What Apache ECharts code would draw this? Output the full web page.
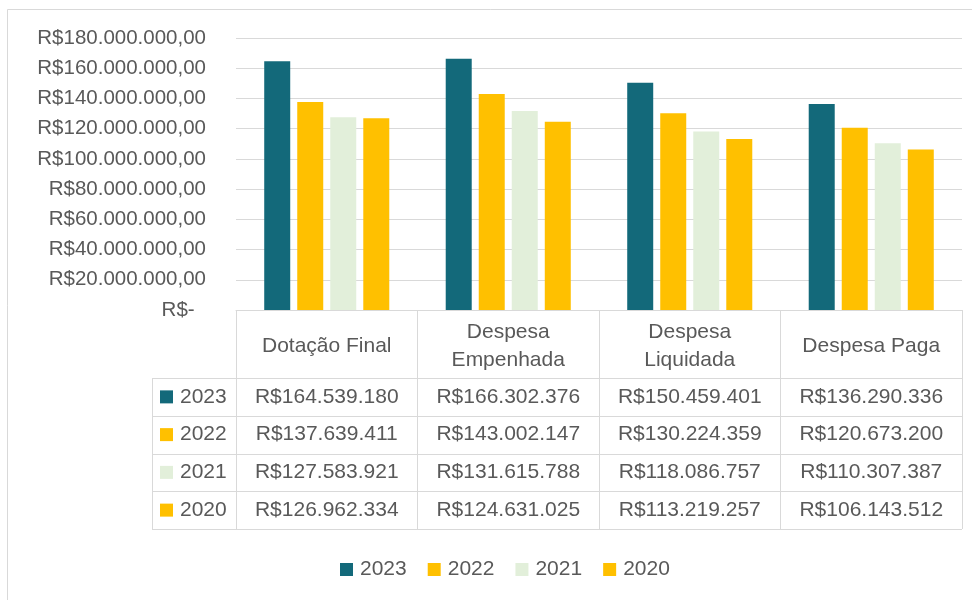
<!DOCTYPE html>
<html><head><meta charset="utf-8">
<script src="https://cdn.jsdelivr.net/npm/echarts@6/dist/echarts.min.js"></script>
<style>html,body{margin:0;padding:0;background:#fff}#c{width:972px;height:600px}</style>
</head><body><div id="c"></div>
<script>
const categories = ['Dotação Final', 'Despesa Empenhada', 'Despesa Liquidada', 'Despesa Paga'];
const headerLabels = ['Dotação Final', 'Despesa\nEmpenhada', 'Despesa\nLiquidada', 'Despesa Paga'];
const years = ['2023', '2022', '2021', '2020'];
const v2023 = [164539180, 166302376, 150459401, 136290336];
const v2022 = [137639411, 143002147, 130224359, 120673200];
const v2021 = [127583921, 131615788, 118086757, 110307387];
const v2020 = [126962334, 124631025, 113219257, 106143512];
const yTicks = { min: 0, max: 180000000, interval: 20000000 };

const rows = [v2023, v2022, v2021, v2020];
const colors = ['#13697A', '#FFC000', '#E2EFDA', '#FFC000'];
const TXT = '#595959', LINE = '#d9d9d9', FONT = 'Liberation Sans, Arial, sans-serif';
const W = 972, H = 600;
const GL = 236, GR = 10, GT = 38, AXIS_Y = 310;
const HEADER_BOTTOM = 378, ROW_H = 37.75, TABLE_LEFT = 152;

function thousands(n) { return String(n).replace(/\B(?=(\d{3})+(?!\d))/g, '.'); }
function yFmt(v) { return v === 0 ? 'R$-  ' : 'R$' + thousands(v) + ',00'; }

const chart = echarts.init(document.getElementById('c'), null, { renderer: 'canvas' });

const xAxes = [{
  type: 'category', data: categories, position: 'bottom',
  axisLine: { lineStyle: { color: LINE, width: 1 } },
  axisTick: { show: true, length: (HEADER_BOTTOM + ROW_H * 4) - AXIS_Y, interval: 0, lineStyle: { color: LINE } },
  axisLabel: { interval: 0, margin: (HEADER_BOTTOM - AXIS_Y) / 2 + 2, verticalAlign: 'middle', fontSize: 21, lineHeight: 28,
    color: TXT, fontFamily: FONT, formatter: (v, i) => headerLabels[i] },
  splitLine: { show: false }
}];
rows.forEach((r, k) => {
  xAxes.push({
    type: 'category', data: categories, position: 'bottom', gridIndex: 0,
    offset: HEADER_BOTTOM + ROW_H * (k + 0.5) - AXIS_Y,
    axisLine: { show: false }, axisTick: { show: false }, splitLine: { show: false },
    axisLabel: { interval: 0, margin: 0, verticalAlign: 'middle', fontSize: 21, color: TXT, fontFamily: FONT,
      formatter: (v, i) => 'R$' + thousands(r[i]) }
  });
});

const graphic = [
  { type: 'rect', shape: { x: 7.5, y: 9.5, width: W, height: H }, style: { fill: null, stroke: LINE, lineWidth: 1 }, silent: true },
  { type: 'line', shape: { x1: TABLE_LEFT + 0.5, y1: HEADER_BOTTOM, x2: TABLE_LEFT + 0.5, y2: HEADER_BOTTOM + ROW_H * 4 }, style: { stroke: LINE, lineWidth: 1 } }
];
for (let k = 0; k <= 4; k++) {
  const y = Math.round(HEADER_BOTTOM + ROW_H * k) + 0.5;
  graphic.push({ type: 'line', shape: { x1: TABLE_LEFT, y1: y, x2: W - GR, y2: y }, style: { stroke: LINE, lineWidth: 1 } });
}
years.forEach((yr, k) => {
  const cy = HEADER_BOTTOM + ROW_H * (k + 0.5);
  graphic.push({ type: 'rect', shape: { x: 160, y: cy - 6.5, width: 13, height: 13 }, style: { fill: colors[k] } });
  graphic.push({ type: 'text', x: 180, y: cy, style: { text: yr, fill: TXT, fontSize: 21, fontFamily: FONT, verticalAlign: 'middle', align: 'left' } });
});

chart.setOption({
  animation: false,
  backgroundColor: '#fff',
  textStyle: { fontFamily: FONT },
  grid: { left: GL, right: GR, top: GT, bottom: H - AXIS_Y, containLabel: false },
  legend: {
    data: years, left: 335, top: 554, icon: 'rect', itemWidth: 13, itemHeight: 13, itemGap: 21,
    textStyle: { fontSize: 21, color: TXT, fontFamily: FONT, padding: [0, 0, 0, 2] }
  },
  xAxis: xAxes,
  yAxis: {
    type: 'value', min: yTicks.min, max: yTicks.max, interval: yTicks.interval,
    axisLine: { show: false }, axisTick: { show: false },
    splitLine: { lineStyle: { color: LINE, width: 1 } },
    axisLabel: { margin: 30, fontSize: 20.5, color: TXT, fontFamily: FONT, formatter: yFmt }
  },
  series: years.map((yr, k) => ({
    name: yr, type: 'bar', data: rows[k], xAxisIndex: 0,
    barWidth: 26, barGap: '27%',
    itemStyle: { color: colors[k] }
  })),
  graphic: graphic
});
</script></body></html>
